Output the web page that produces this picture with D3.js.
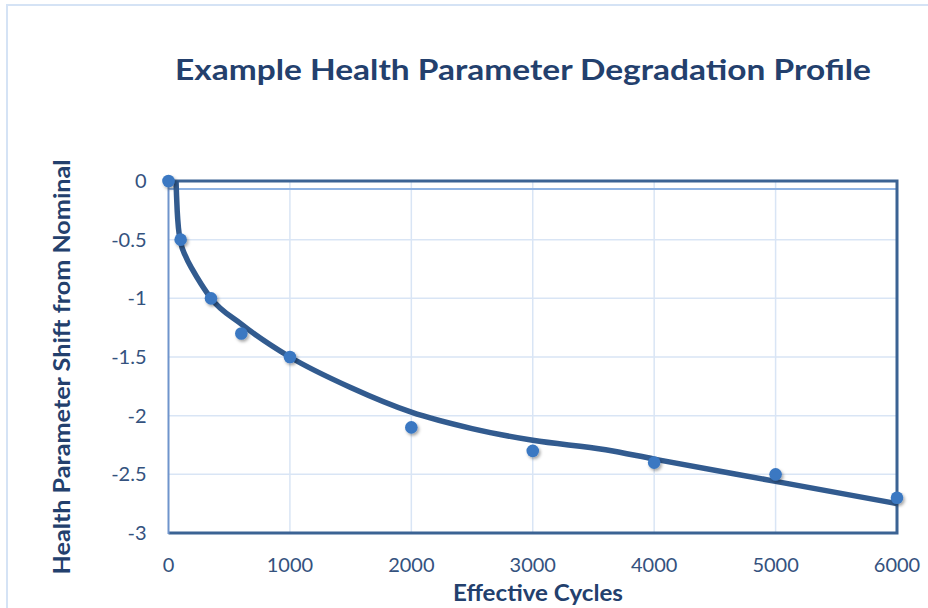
<!DOCTYPE html>
<html>
<head>
<meta charset="utf-8">
<script src="https://cdn.jsdelivr.net/npm/d3@7"></script>
<style>
  body { margin: 0; background: #fff; }
  svg { display: block; font-family: Lato, "Open Sans", sans-serif; }
</style>
</head>
<body>
<div id="chart"></div>
<script>
// Health parameter degradation: measured points + fitted trend line

var cycles = [0, 100, 350, 600, 1000, 2000, 3000, 4000, 5000, 6000];
var shift = [0, -0.5, -1.0, -1.3, -1.5, -2.1, -2.3, -2.4, -2.5, -2.7];

// trend curve
var trendCycles = [62, 66, 72, 82, 100, 140, 200, 270, 350, 600, 1000, 1500, 2000, 2500, 3000, 3600, 4000, 5000, 6000];
var trendShift = [0, -0.12, -0.26, -0.4, -0.52, -0.64, -0.76, -0.88, -1.0, -1.22, -1.5, -1.76, -1.97, -2.11, -2.21, -2.29, -2.37, -2.56, -2.75];

var xTicks = [0, 1000, 2000, 3000, 4000, 5000, 6000];
var yTicks = [0, -0.5, -1, -1.5, -2, -2.5, -3];

var titleText = "Example Health Parameter Degradation Profile";
var xLabel = "Effective Cycles";
var yLabel = "Health Parameter Shift from Nominal";

var width = 928, height = 608;
var margin = {top: 181, right: 30, bottom: 75, left: 168.5};
var innerWidth = 897 - margin.left;
var innerHeight = 533 - margin.top;

var svg = d3.select("#chart").append("svg")
    .attr("width", width)
    .attr("height", height);

// outer chart border (runs off the right and bottom edges)
svg.append("path")
    .attr("d", "M7," + height + "V5H" + width)
    .attr("fill", "none")
    .attr("stroke", "#d5e3f5")
    .attr("stroke-width", 2);

var defs = svg.append("defs");
var shadow = defs.append("filter").attr("id", "shadow")
    .attr("x", "-50%").attr("y", "-50%").attr("width", "200%").attr("height", "200%");
shadow.append("feDropShadow")
    .attr("dx", 1.5).attr("dy", 2).attr("stdDeviation", 1.5)
    .attr("flood-color", "#000").attr("flood-opacity", 0.35);

var g = svg.append("g")
    .attr("transform", "translate(" + margin.left + "," + margin.top + ")");

var x = d3.scaleLinear().domain([0, 6000]).range([0, innerWidth]);
var y = d3.scaleLinear().domain([-3, 0]).range([innerHeight, 0]);

// gridlines
g.selectAll(".hgrid")
    .data(yTicks.slice(1, -1))
    .enter().append("line")
    .attr("class", "hgrid")
    .attr("x1", 0).attr("x2", innerWidth)
    .attr("y1", function (d) { return y(d); })
    .attr("y2", function (d) { return y(d); })
    .attr("stroke", "#d9e5f5").attr("stroke-width", 1.5);

g.selectAll(".vgrid")
    .data(xTicks.slice(1, -1))
    .enter().append("line")
    .attr("class", "vgrid")
    .attr("x1", function (d) { return x(d); })
    .attr("x2", function (d) { return x(d); })
    .attr("y1", 0).attr("y2", innerHeight)
    .attr("stroke", "#d9e5f5").attr("stroke-width", 1.5);

// thin light line just under the top of the frame
g.append("line")
    .attr("x1", 0).attr("x2", innerWidth)
    .attr("y1", 8).attr("y2", 8)
    .attr("stroke", "#8fb3e3").attr("stroke-width", 2);

// frame: top, right, bottom in dark blue
g.append("polyline")
    .attr("points", [[0, 0], [innerWidth, 0], [innerWidth, innerHeight], [0, innerHeight]].join(" "))
    .attr("fill", "none")
    .attr("stroke", "#3b6394")
    .attr("stroke-width", 3);

// left axis line, lighter
g.append("line")
    .attr("x1", 0).attr("x2", 0)
    .attr("y1", 0).attr("y2", innerHeight + 1)
    .attr("stroke", "#6f94cc").attr("stroke-width", 2);

// tick labels (plain hyphen for negatives, like the original)
g.selectAll(".ylab")
    .data(yTicks)
    .enter().append("text")
    .attr("class", "ylab")
    .attr("x", -22)
    .attr("y", function (d) { return y(d); })
    .attr("dy", "0.35em")
    .attr("text-anchor", "end")
    .attr("font-size", 20)
    .attr("fill", "#34527e")
    .text(function (d) { return String(d); });

g.selectAll(".xlab")
    .data(xTicks)
    .enter().append("text")
    .attr("class", "xlab")
    .attr("x", function (d) { return x(d); })
    .attr("y", innerHeight + 39)
    .attr("text-anchor", "middle")
    .attr("font-size", 20)
    .attr("fill", "#34527e")
    .text(function (d) { return String(d); });

// trend line
var trend = trendCycles.map(function (c, i) { return {c: c, s: trendShift[i]}; });
var line = d3.line()
    .x(function (d) { return x(d.c); })
    .y(function (d) { return y(d.s); })
    .curve(d3.curveMonotoneX);

g.append("path")
    .attr("d", line(trend))
    .attr("fill", "none")
    .attr("stroke", "#325b8f")
    .attr("stroke-width", 5.5)
    .attr("stroke-linecap", "butt");

// data points
var pts = cycles.map(function (c, i) { return {c: c, s: shift[i]}; });
g.selectAll(".dot")
    .data(pts)
    .enter()
    .append("circle")
    .attr("class", "dot")
    .attr("cx", function (d) { return x(d.c); })
    .attr("cy", function (d) { return y(d.s); })
    .attr("r", 6.3)
    .attr("fill", "#3a78c2")
    .attr("filter", "url(#shadow)");

// titles, stretched to the widths of the original's wider font
svg.append("text")
    .attr("x", 523).attr("y", 80)
    .attr("text-anchor", "middle")
    .attr("font-size", 28)
    .attr("font-weight", "bold")
    .attr("fill", "#23406d")
    .attr("textLength", 696)
    .attr("lengthAdjust", "spacingAndGlyphs")
    .text(titleText);

svg.append("text")
    .attr("x", 538).attr("y", 601)
    .attr("text-anchor", "middle")
    .attr("font-size", 22)
    .attr("font-weight", "bold")
    .attr("fill", "#23406d")
    .attr("textLength", 170)
    .attr("lengthAdjust", "spacingAndGlyphs")
    .text(xLabel);

svg.append("text")
    .attr("transform", "translate(70,367) rotate(-90)")
    .attr("text-anchor", "middle")
    .attr("font-size", 22)
    .attr("font-weight", "bold")
    .attr("fill", "#23406d")
    .attr("textLength", 415)
    .attr("lengthAdjust", "spacingAndGlyphs")
    .text(yLabel);
</script>
</body>
</html>
